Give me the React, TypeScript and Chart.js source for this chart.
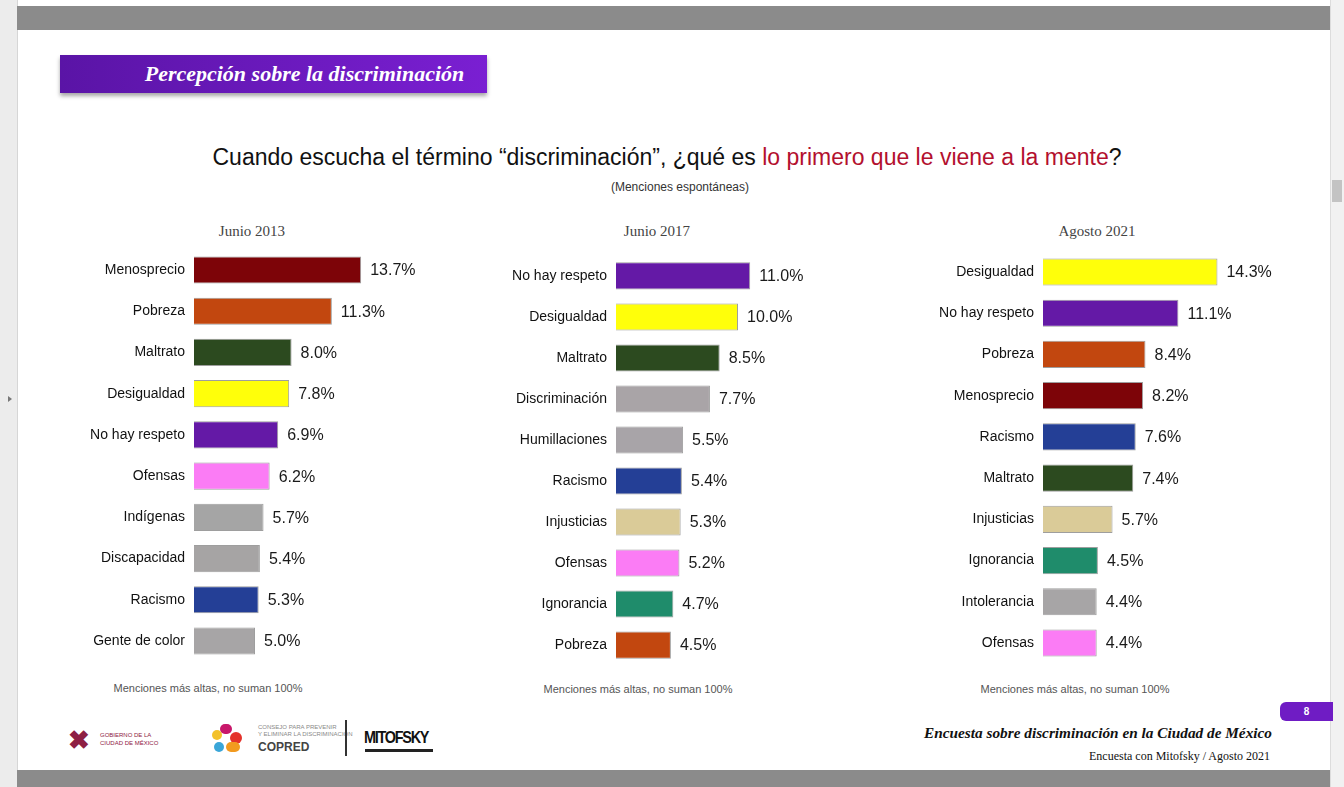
import React, { useEffect, useRef } from "react";
import { Chart, registerables } from "chart.js";

Chart.register(...registerables);

// ---------- DATA ----------
const panelTitles = ["Junio 2013", "Junio 2017", "Agosto 2021"];

const categories2013 = ["Menosprecio", "Pobreza", "Maltrato", "Desigualdad", "No hay respeto", "Ofensas", "Indígenas", "Discapacidad", "Racismo", "Gente de color"];
const values2013 = [13.7, 11.3, 8.0, 7.8, 6.9, 6.2, 5.7, 5.4, 5.3, 5.0];

const categories2017 = ["No hay respeto", "Desigualdad", "Maltrato", "Discriminación", "Humillaciones", "Racismo", "Injusticias", "Ofensas", "Ignorancia", "Pobreza"];
const values2017 = [11.0, 10.0, 8.5, 7.7, 5.5, 5.4, 5.3, 5.2, 4.7, 4.5];

const categories2021 = ["Desigualdad", "No hay respeto", "Pobreza", "Menosprecio", "Racismo", "Maltrato", "Injusticias", "Ignorancia", "Intolerancia", "Ofensas"];
const values2021 = [14.3, 11.1, 8.4, 8.2, 7.6, 7.4, 5.7, 4.5, 4.4, 4.4];

const footnote = "Menciones más altas, no suman 100%";

// ---------- STYLE ----------
const categoryColors: Record<string, string> = {
  "Menosprecio": "#7d0408",
  "Pobreza": "#c2470f",
  "Maltrato": "#2c4a1f",
  "Desigualdad": "#ffff0a",
  "No hay respeto": "#6419a6",
  "Ofensas": "#fb7cf5",
  "Indígenas": "#a5a5a5",
  "Discapacidad": "#a6a4a4",
  "Racismo": "#243f96",
  "Gente de color": "#a7a5a6",
  "Discriminación": "#a9a4a7",
  "Humillaciones": "#a8a4a8",
  "Injusticias": "#dacb98",
  "Ignorancia": "#1f8c6b",
  "Intolerancia": "#a7a5a6",
};

const valueLabelPlugin = {
  id: "valueLabels",
  afterDatasetsDraw(chart: any) {
    const ctx = chart.ctx;
    const meta = chart.getDatasetMeta(0);
    const data = chart.data.datasets[0].data;
    ctx.save();
    ctx.font = "16px 'Liberation Sans', Arial, sans-serif";
    ctx.fillStyle = "#1a1a1a";
    ctx.textAlign = "left";
    ctx.textBaseline = "middle";
    meta.data.forEach((bar: any, i: number) => {
      ctx.fillText(Number(data[i]).toFixed(1) + "%", bar.x + 9, bar.y + 1);
    });
    ctx.restore();
  },
};

type PanelProps = {
  labels: string[];
  values: number[];
  left: number;
  top: number;
  axisWidth: number;
  height: number;
};

const PLOT_WIDTH = 244;
const X_MAX = 20;
const TICK_PAD = 9;
const TICK_SIZE = 14;
// Chart.js reserves half a label height plus the tick padding above and below the y axis
const V_PAD = (TICK_SIZE * 1.2) / 2 + TICK_PAD;

function BarPanel({ labels, values, left, top, axisWidth, height }: PanelProps) {
  const ref = useRef<HTMLCanvasElement | null>(null);
  useEffect(() => {
    if (!ref.current) return;
    const chart = new Chart(ref.current, {
      type: "bar",
      data: {
        labels,
        datasets: [
          {
            data: values,
            backgroundColor: labels.map((l) => categoryColors[l]),
            borderColor: "rgba(40,40,40,0.45)",
            borderWidth: 1,
            categoryPercentage: 1,
            barPercentage: 0.66,
          },
        ],
      },
      options: {
        indexAxis: "y",
        animation: false,
        responsive: false,
        maintainAspectRatio: false,
        layout: { padding: 0 },
        plugins: { legend: { display: false }, tooltip: { enabled: false } },
        scales: {
          x: { display: false, min: 0, max: X_MAX },
          y: {
            grid: { display: false, drawTicks: false },
            border: { display: false },
            ticks: {
              color: "#111",
              padding: TICK_PAD,
              font: { family: "'Liberation Sans', Arial, sans-serif", size: TICK_SIZE },
            },
            afterFit: (scale: any) => {
              scale.width = axisWidth;
            },
          },
        },
      },
      plugins: [valueLabelPlugin],
    } as any);
    return () => chart.destroy();
  }, []);
  const w = axisWidth + PLOT_WIDTH;
  const h = Math.round(height + 2 * V_PAD);
  return (
    <div style={{ position: "absolute", left, top: Math.round(top - V_PAD), width: w, height: h }}>
      <canvas ref={ref} width={w} height={h} style={{ width: w, height: h, display: "block" }} />
    </div>
  );
}

const sans = "'Liberation Sans', Arial, sans-serif";
const serif = "'Liberation Serif', 'Times New Roman', serif";

export default function App() {
  useEffect(() => {
    document.body.style.margin = "0";
  }, []);
  const small: React.CSSProperties = { position: "absolute", fontFamily: sans, fontSize: 11, color: "#555", whiteSpace: "nowrap", transform: "translateX(-50%)" };
  const panelTitle: React.CSSProperties = { position: "absolute", fontFamily: serif, fontSize: 15, color: "#444", whiteSpace: "nowrap", transform: "translateX(-50%)", top: 223 };
  return (
    <div style={{ position: "fixed", left: 0, top: 0, width: 1344, height: 787, background: "#fff", overflow: "hidden" }}>
      {/* viewer chrome */}
      <div style={{ position: "absolute", left: 0, top: 0, width: 17, height: 787, background: "#ececec", borderRight: "1px solid #d6d6d6" }} />
      <div style={{ position: "absolute", left: 8, top: 396, width: 0, height: 0, borderTop: "3px solid transparent", borderBottom: "3px solid transparent", borderLeft: "4px solid #777" }} />
      <div style={{ position: "absolute", left: 17, top: 6, width: 1313, height: 24, background: "#8b8b8b" }} />
      <div style={{ position: "absolute", left: 17, top: 770, width: 1313, height: 17, background: "#8b8b8b" }} />
      <div style={{ position: "absolute", left: 1330, top: 0, width: 14, height: 787, background: "#f1f1f1", borderLeft: "1px solid #dcdcdc" }} />
      <div style={{ position: "absolute", left: 1332, top: 180, width: 10, height: 22, background: "#c3c3c3" }} />

      {/* header */}
      <div style={{ position: "absolute", left: 60, top: 55, width: 427, height: 38, background: "linear-gradient(90deg,#5a14a6,#7a1fd2)", boxShadow: "0 3px 4px rgba(0,0,0,0.35)", display: "flex", alignItems: "center", justifyContent: "center" }}>
        <span style={{ fontFamily: serif, fontStyle: "italic", fontWeight: "bold", fontSize: 22, color: "#fff", marginLeft: 62 }}>Percepción sobre la discriminación</span>
      </div>

      {/* title */}
      <div style={{ position: "absolute", left: 0, width: 1334, top: 144, textAlign: "center", fontFamily: sans, fontSize: 23, color: "#111", whiteSpace: "nowrap" }}>
        Cuando escucha el término “discriminación”, ¿qué es <span style={{ color: "#b3102e" }}>lo primero que le viene a la mente</span>?
      </div>
      <div style={{ ...small, left: 680, top: 180, fontSize: 12, color: "#333" }}>(Menciones espontáneas)</div>

      {/* panel titles */}
      <div style={{ ...panelTitle, left: 252 }}>{panelTitles[0]}</div>
      <div style={{ ...panelTitle, left: 657 }}>{panelTitles[1]}</div>
      <div style={{ ...panelTitle, left: 1097 }}>{panelTitles[2]}</div>

      <BarPanel labels={categories2013} values={values2013} left={60} top={249.4} axisWidth={134} height={412} />
      <BarPanel labels={categories2017} values={values2017} left={480} top={255.5} axisWidth={136} height={410} />
      <BarPanel labels={categories2021} values={values2021} left={900} top={251.4} axisWidth={143} height={412} />

      {/* footnotes */}
      <div style={{ ...small, left: 208, top: 682 }}>{footnote}</div>
      <div style={{ ...small, left: 638, top: 683 }}>{footnote}</div>
      <div style={{ ...small, left: 1075, top: 683 }}>{footnote}</div>

      {/* logos */}
      <div style={{ position: "absolute", left: 68, top: 726, width: 26, height: 28, fontFamily: sans, fontSize: 26, fontWeight: "bold", color: "#8e2044", lineHeight: "28px" }}>✖</div>
      <div style={{ position: "absolute", left: 100, top: 731, fontFamily: sans, fontSize: 6, color: "#8e2044", lineHeight: "8px" }}>GOBIERNO DE LA<br />CIUDAD DE MÉXICO</div>
      <div style={{ position: "absolute", left: 212, top: 724, width: 32, height: 32 }}>
        <div style={{ position: "absolute", left: 8, top: 0, width: 12, height: 10, background: "#c8176a", borderRadius: 5 }} />
        <div style={{ position: "absolute", left: 18, top: 8, width: 12, height: 12, background: "#e4322b", borderRadius: 6 }} />
        <div style={{ position: "absolute", left: 14, top: 18, width: 14, height: 10, background: "#f29a1f", borderRadius: 5 }} />
        <div style={{ position: "absolute", left: 2, top: 18, width: 10, height: 10, background: "#3aa6d8", borderRadius: 5 }} />
        <div style={{ position: "absolute", left: 0, top: 6, width: 10, height: 10, background: "#f3c12a", borderRadius: 5 }} />
      </div>
      <div style={{ position: "absolute", left: 258, top: 724, fontFamily: sans, fontSize: 6, color: "#888", lineHeight: "7px" }}>CONSEJO PARA PREVENIR<br />Y ELIMINAR LA DISCRIMINACIÓN</div>
      <div style={{ position: "absolute", left: 258, top: 740, fontFamily: sans, fontSize: 12, color: "#444", fontWeight: "bold" }}>COPRED</div>
      <div style={{ position: "absolute", left: 345, top: 720, width: 1.5, height: 36, background: "#333" }} />
      <div style={{ position: "absolute", left: 364, top: 728, fontFamily: "'Liberation Sans Narrow', 'Liberation Sans', Arial, sans-serif", fontSize: 17, fontWeight: "bold", color: "#111", letterSpacing: -1.5, transform: "scaleX(0.85)", transformOrigin: "left" }}>MITOFSKY</div>
      <div style={{ position: "absolute", left: 365, top: 749, width: 68, height: 3, background: "#222" }} />

      {/* page tab */}
      <div style={{ position: "absolute", left: 1280, top: 702, width: 53, height: 19, background: "#6f1cc4", borderRadius: "6px 0 0 6px", color: "#fff", fontFamily: sans, fontSize: 10, fontWeight: "bold", textAlign: "center", lineHeight: "19px" }}>8</div>

      {/* footer text */}
      <div style={{ position: "absolute", right: 1344 - 1272, top: 724, fontFamily: serif, fontStyle: "italic", fontWeight: "bold", fontSize: 15.3, color: "#111", whiteSpace: "nowrap" }}>Encuesta sobre discriminación en la Ciudad de México</div>
      <div style={{ position: "absolute", right: 1344 - 1270, top: 749, fontFamily: serif, fontSize: 12, color: "#111", whiteSpace: "nowrap" }}>Encuesta con Mitofsky / Agosto 2021</div>
    </div>
  );
}
